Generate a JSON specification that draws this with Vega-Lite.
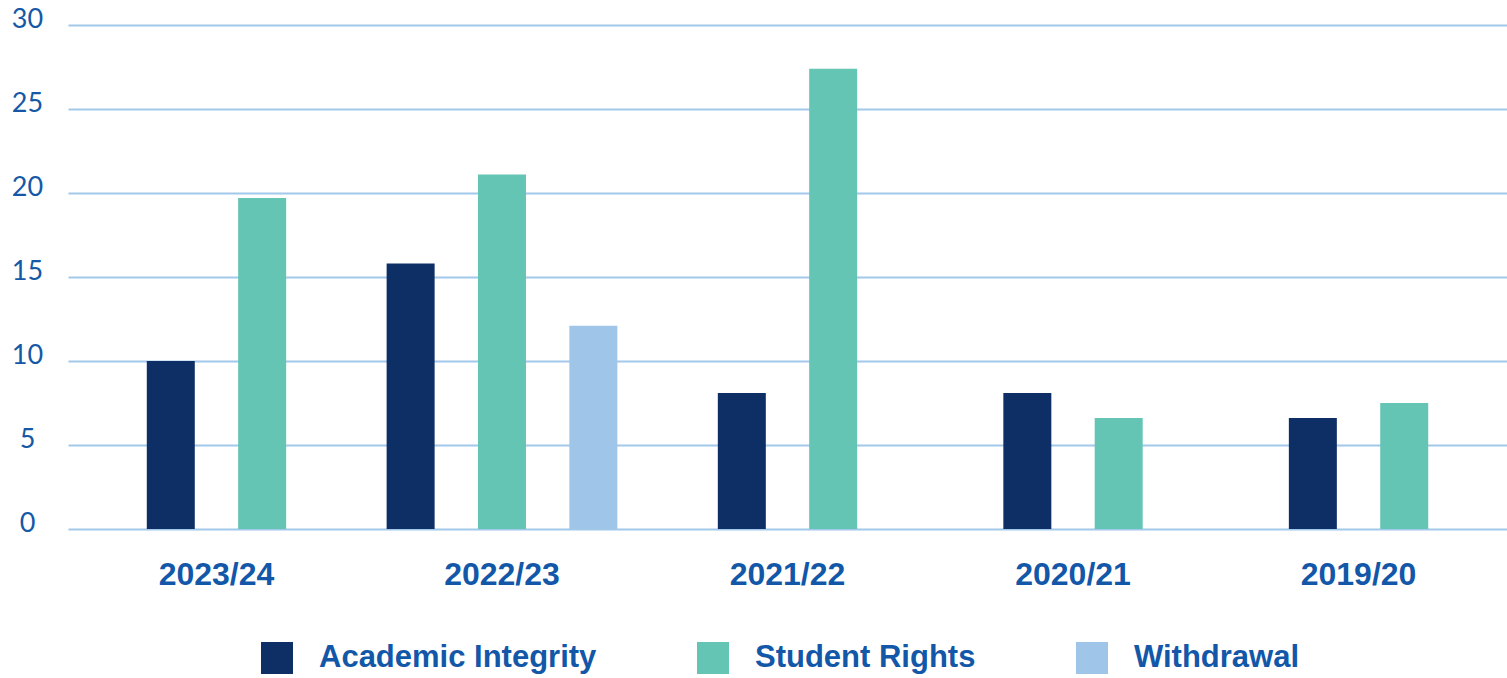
{
  "$schema": "https://vega.github.io/schema/vega-lite/v6.json",
  "width": 1439,
  "height": 504,
  "autosize": "none",
  "padding": {"left": 68, "top": 25, "right": 0, "bottom": 149},
  "background": "white",
  "data": {
    "values": [
      {"year": "2023/24", "category": "Academic Integrity", "value": 10.0},
      {"year": "2023/24", "category": "Student Rights", "value": 19.7},
      {"year": "2022/23", "category": "Academic Integrity", "value": 15.8},
      {"year": "2022/23", "category": "Student Rights", "value": 21.1},
      {"year": "2022/23", "category": "Withdrawal", "value": 12.1},
      {"year": "2021/22", "category": "Academic Integrity", "value": 8.1},
      {"year": "2021/22", "category": "Student Rights", "value": 27.4},
      {"year": "2020/21", "category": "Academic Integrity", "value": 8.1},
      {"year": "2020/21", "category": "Student Rights", "value": 6.6},
      {"year": "2019/20", "category": "Academic Integrity", "value": 6.6},
      {"year": "2019/20", "category": "Student Rights", "value": 7.5}
    ]
  },
  "transform": [
    {"window": [{"op": "row_number", "as": "rank"}], "groupby": ["year"], "sort": [{"field": "category"}]},
    {"joinaggregate": [{"op": "count", "as": "n"}], "groupby": ["year"]},
    {"calculate": "2 * datum.rank - datum.n - 1", "as": "slot"}
  ],
  "mark": {"type": "bar", "width": 48},
  "encoding": {
    "x": {
      "field": "year",
      "type": "nominal",
      "sort": null,
      "scale": {"paddingInner": 0.2, "paddingOuter": 0.12},
      "axis": {
        "title": null,
        "domain": false,
        "ticks": false,
        "tickSize": 0,
        "labelAngle": 0,
        "labelFont": "Liberation Sans",
        "labelFontWeight": "bold",
        "labelFontSize": 32,
        "labelColor": "#1257a8",
        "labelPadding": 30
      }
    },
    "xOffset": {
      "field": "slot",
      "type": "nominal",
      "scale": {"domain": [-2, -1, 0, 1, 2], "paddingInner": 0, "paddingOuter": 0}
    },
    "y": {
      "field": "value",
      "type": "quantitative",
      "scale": {"domain": [0, 30], "nice": false},
      "axis": {
        "title": null,
        "values": [0, 5, 10, 15, 20, 25, 30],
        "domain": false,
        "ticks": false,
        "tickSize": 0,
        "grid": true,
        "gridColor": "#a2c8ea",
        "gridWidth": 2,
        "labelFont": "Lato",
        "labelFontSize": 27,
        "labelColor": "#1458a6",
        "labelAlign": "center",
        "labelBaseline": "alphabetic",
        "labelOffset": 2,
        "labelPadding": 41
      }
    },
    "color": {
      "field": "category",
      "type": "nominal",
      "scale": {
        "domain": ["Academic Integrity", "Student Rights", "Withdrawal"],
        "range": ["#0e2f66", "#64c5b4", "#9fc5e8"]
      },
      "legend": {
        "title": null,
        "orient": "none",
        "direction": "horizontal",
        "legendX": 193,
        "legendY": 617,
        "padding": 0,
        "symbolType": "square",
        "symbolSize": 1024,
        "symbolStrokeWidth": 0,
        "symbolOpacity": 1,
        "labelFont": "Liberation Sans",
        "labelFontWeight": "bold",
        "labelFontSize": 31,
        "labelColor": "#1257a8",
        "labelOffset": 26,
        "columnPadding": 100,
        "labelLimit": 500
      }
    }
  },
  "config": {
    "view": {"stroke": null}
  }
}
